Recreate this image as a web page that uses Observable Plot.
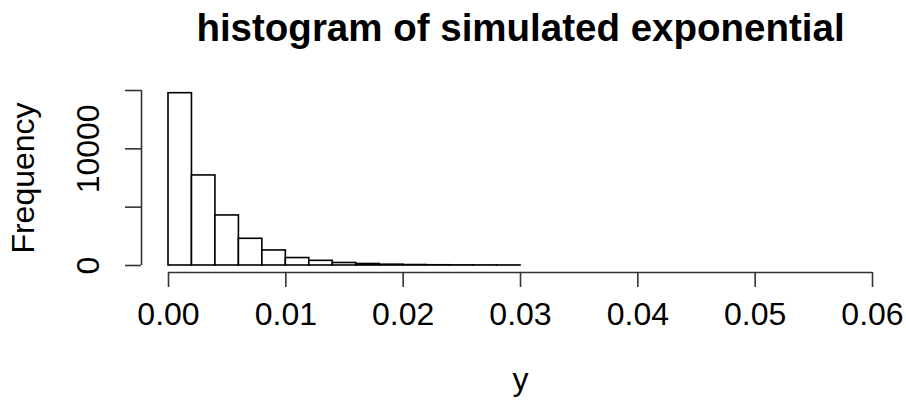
<!DOCTYPE html>
<html>
<head>
<meta charset="utf-8">
<script src="https://cdn.jsdelivr.net/npm/d3@7"></script>
<script src="https://cdn.jsdelivr.net/npm/@observablehq/plot@0.6"></script>
<style>
  html, body { margin: 0; padding: 0; background: white; }
</style>
</head>
<body>
<div id="chart"></div>
<script>
const titleText = "histogram of simulated exponential";
const xLabel = "y";
const yLabel = "Frequency";

const binStarts = [0, 0.002, 0.004, 0.006, 0.008, 0.010, 0.012, 0.014, 0.016, 0.018, 0.020, 0.022, 0.024, 0.026, 0.028];
const binEnds   = [0.002, 0.004, 0.006, 0.008, 0.010, 0.012, 0.014, 0.016, 0.018, 0.020, 0.022, 0.024, 0.026, 0.028, 0.030];
const counts    = [14770, 7720, 4290, 2290, 1290, 640, 400, 215, 130, 70, 40, 22, 12, 7, 4];

const xTicks = [0, 0.01, 0.02, 0.03, 0.04, 0.05, 0.06];
const yTicks = [0, 5000, 10000, 15000];
const yTickLabels = [0, 10000];

const bins = binStarts.map((x1, i) => ({x1, x2: binEnds[i], count: counts[i]}));

const font = "'Liberation Sans', Arial, Helvetica, sans-serif";
const axisColor = "#333";

const chart = Plot.plot({
  width: 906,
  height: 400,
  marginLeft: 141,
  marginRight: 7,
  marginTop: 90,
  marginBottom: 128,
  x: {domain: [0, 0.06], range: [168, 872], label: null},
  y: {domain: [0, 15000], range: [265, 90], label: null},
  style: {fontFamily: font, fontSize: "32px", color: "black", background: "white"},
  marks: [
    Plot.rectY(bins, {x1: "x1", x2: "x2", y: "count", fill: "white", stroke: "black", strokeWidth: 1.6}),
    Plot.ruleY([0], {x1: 0, x2: 0.06, dy: 7, stroke: axisColor, strokeWidth: 1.6}),
    Plot.ruleX([0], {y1: 0, y2: 15000, dx: -27, stroke: axisColor, strokeWidth: 1.6}),
    Plot.axisX({ticks: xTicks, tickSize: 15, tickPadding: 15, tickFormat: d3.format(".2f"),
      fontSize: 32, stroke: axisColor, strokeWidth: 1.6, fill: "black", label: null}),
    Plot.axisY({ticks: yTicks, tickSize: 16, tickFormat: () => "", stroke: axisColor, strokeWidth: 1.6, label: null}),
    Plot.text(yTickLabels, {x: 0, y: d => d, text: d => String(d), rotate: -90, dx: -70,
      textAnchor: "middle", lineAnchor: "bottom", fontSize: 32, fill: "black"}),
    Plot.text([yLabel], {x: 0, y: 7500, text: d => d, rotate: -90, dx: -135,
      textAnchor: "middle", lineAnchor: "bottom", fontSize: 32, fill: "black"}),
    Plot.text([xLabel], {x: 0.03, y: 0, text: d => d, dy: 124,
      textAnchor: "middle", lineAnchor: "bottom", fontSize: 32, fill: "black"}),
    Plot.text([titleText], {x: 0.03, y: 15000, text: d => d, dy: -50,
      textAnchor: "middle", lineAnchor: "bottom", fontSize: 38.5, fontWeight: "bold", fill: "black"})
  ]
});

document.getElementById("chart").appendChild(chart);
</script>
</body>
</html>
